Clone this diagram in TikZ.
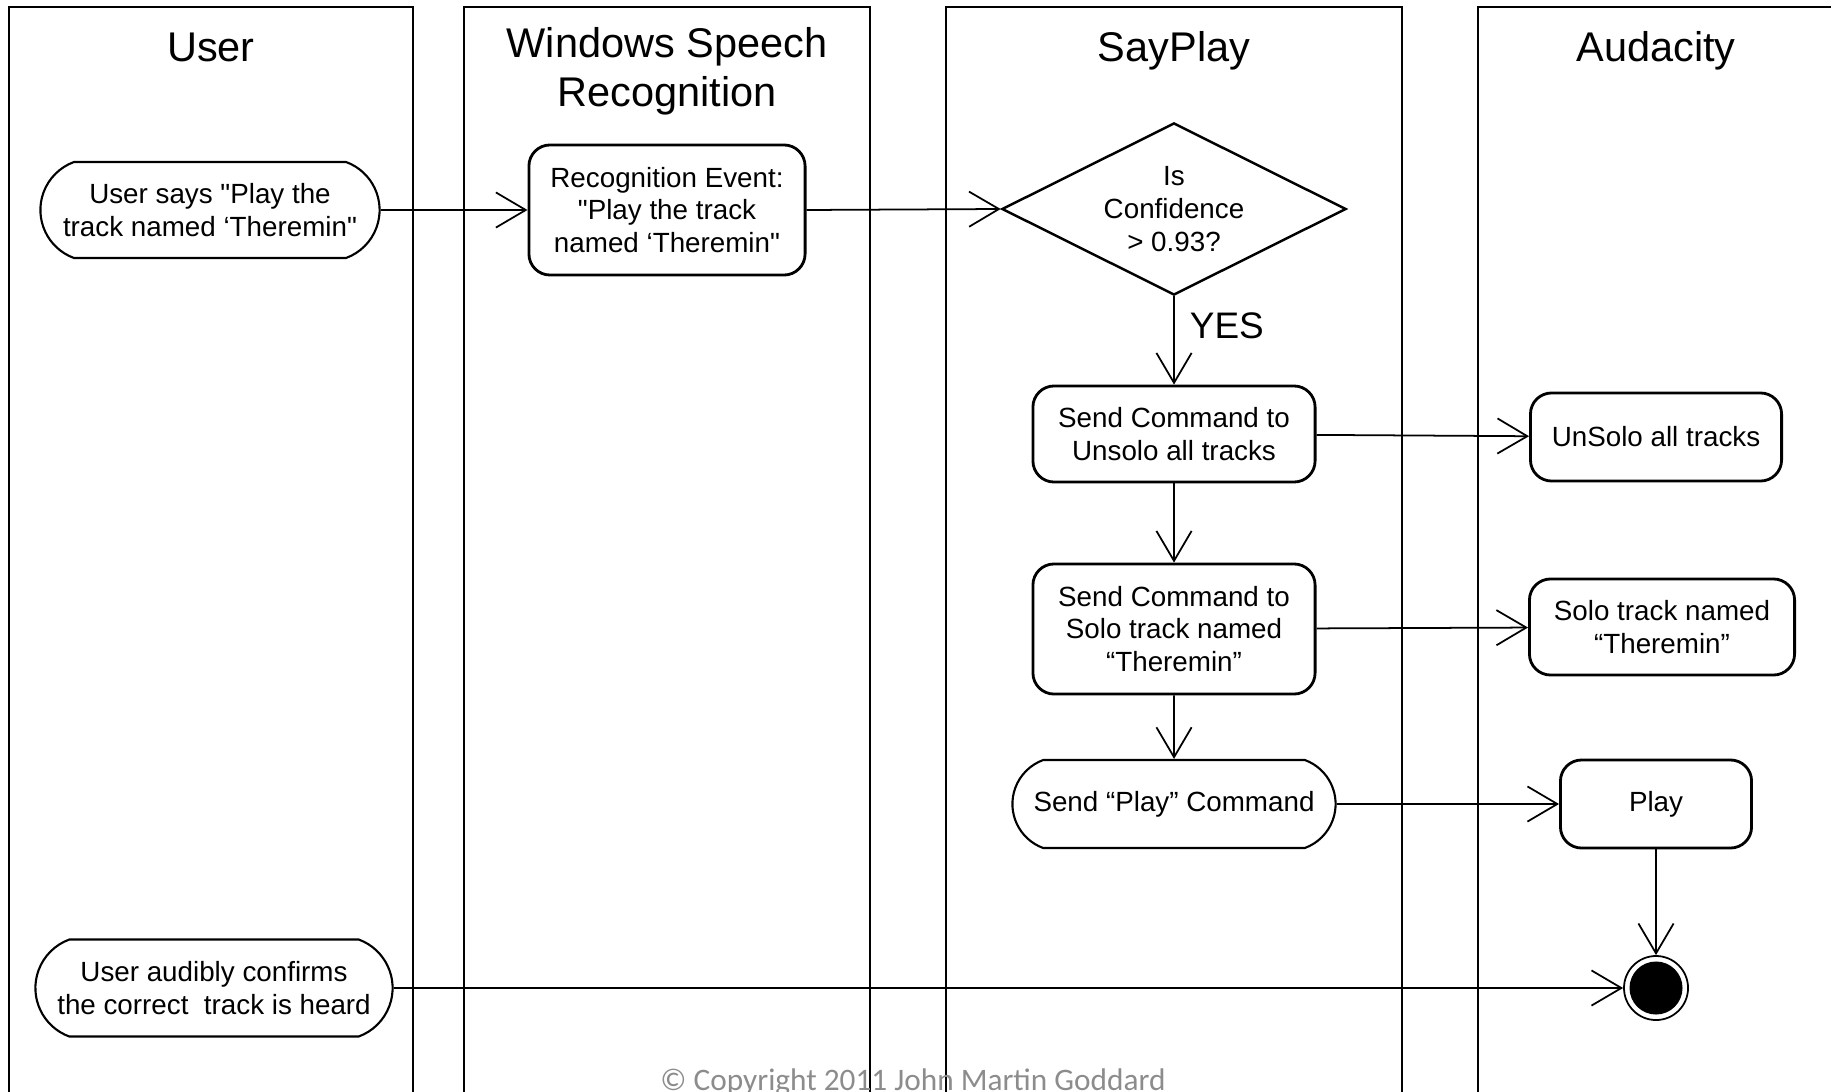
\documentclass[tikz,border=0pt]{standalone}
\usepackage{fontspec}
\setmainfont{Liberation Sans}
\newfontfamily\notefont{Carlito}
\usetikzlibrary{arrows.meta,shapes.geometric,shapes.misc}

\tikzset{
  lane/.style={draw, line width=0.7pt},
  lanetitle/.style={font=\fontsize{11.8}{14}\selectfont, align=center},
  activity/.style={draw, rounded corners=6pt, line width=0.8pt, align=center,
    inner sep=0pt, font=\fontsize{7.9}{9.3}\selectfont},
  stadium/.style={draw, rounded rectangle, rounded rectangle arc length=140,
    line width=0.6pt, align=center, inner sep=0pt, font=\fontsize{7.9}{9.3}\selectfont},
  decision/.style={draw, diamond, line width=0.7pt, inner sep=0pt},
  finalstate/.style={circle, draw, line width=0.5pt, minimum size=0.64cm, inner sep=0pt,
    path picture={\fill (path picture bounding box.center) circle (0.265cm);}},
  flow/.style={-{Straight Barb[length=8.5pt,width=10pt]}, line width=0.5pt},
}
\newcommand{\dq}{\textquotedbl}

\begin{document}
\begin{tikzpicture}[x=0.01cm, y=-0.01cm]
\clip (0,0) rectangle (1831,1091);

% swimlanes
\draw[lane] (9,7) rectangle (413,1120);
\draw[lane] (464,7) rectangle (870,1120);
\draw[lane] (946,7) rectangle (1402,1120);
\draw[lane] (1478,7) rectangle (1850,1120);

\node[lanetitle, anchor=base] (user-title) at (211,62) {User};
\node[lanetitle] (wsr-title) at (667,71) {Windows Speech\\Recognition};
\node[lanetitle, anchor=base] (sayplay-title) at (1174,62) {SayPlay};
\node[lanetitle, anchor=base] (audacity-title) at (1656,62) {Audacity};

% activities
\node[stadium, minimum width=3.39cm, minimum height=0.96cm] (say) at (210,210)
  {User says \dq Play the\\track named ‘Theremin\dq};
\node[activity, minimum width=2.76cm, minimum height=1.30cm] (event) at (667,210)
  {Recognition Event:\\\dq Play the track\\named ‘Theremin\dq};
\node[decision, minimum width=3.44cm, minimum height=1.72cm] (conf) at (1174,209) {};
\node[align=center, inner sep=0pt, font=\fontsize{7.9}{9.4}\selectfont] (conf-text)
  at (conf.center) {Is\\Confidence\\> 0.93?};
\node[activity, minimum width=2.82cm, minimum height=0.96cm] (unsolo-cmd) at (1174,434)
  {Send Command to\\Unsolo all tracks};
\node[activity, minimum width=2.51cm, minimum height=0.88cm] (unsolo) at (1656,437)
  {UnSolo all tracks};
\node[activity, minimum width=2.82cm, minimum height=1.30cm] (solo-cmd) at (1174,629)
  {Send Command to\\Solo track named\\“Theremin”};
\node[activity, minimum width=2.65cm, minimum height=0.96cm] (solo) at (1662,627)
  {Solo track named\\“Theremin”};
\node[stadium, minimum width=3.23cm, minimum height=0.88cm] (play-cmd) at (1174,804)
  {Send “Play” Command};
\node[activity, minimum width=1.91cm, minimum height=0.88cm] (play) at (1656,804)
  {Play};
\node[finalstate] (final) at (1656,988) {};
\node[stadium, minimum width=3.57cm, minimum height=0.97cm] (confirm) at (214,988)
  {User audibly confirms\\the correct~ track is heard};

% flows
\draw[flow] (say) -- (event);
\draw[flow] (event.east) -- (conf.west);
\draw[flow] (conf) -- node[pos=0.33, anchor=west, xshift=0.15cm, inner sep=0pt,
  font=\fontsize{10.5}{12}\selectfont] (yes) {YES} (unsolo-cmd);
\draw[flow] (unsolo-cmd) -- (unsolo);
\draw[flow] (unsolo-cmd) -- (solo-cmd);
\draw[flow] (solo-cmd) -- (solo);
\draw[flow] (solo-cmd) -- (play-cmd);
\draw[flow] (play-cmd) -- (play);
\draw[flow] (play) -- (final);
\draw[flow] (confirm) -- (final);

\node[font=\notefont\fontsize{8.9}{10}\selectfont, text=black!45, anchor=base]
  (copyright) at (913,1090) {© Copyright 2011 John Martin Goddard};
\end{tikzpicture}
\end{document}
